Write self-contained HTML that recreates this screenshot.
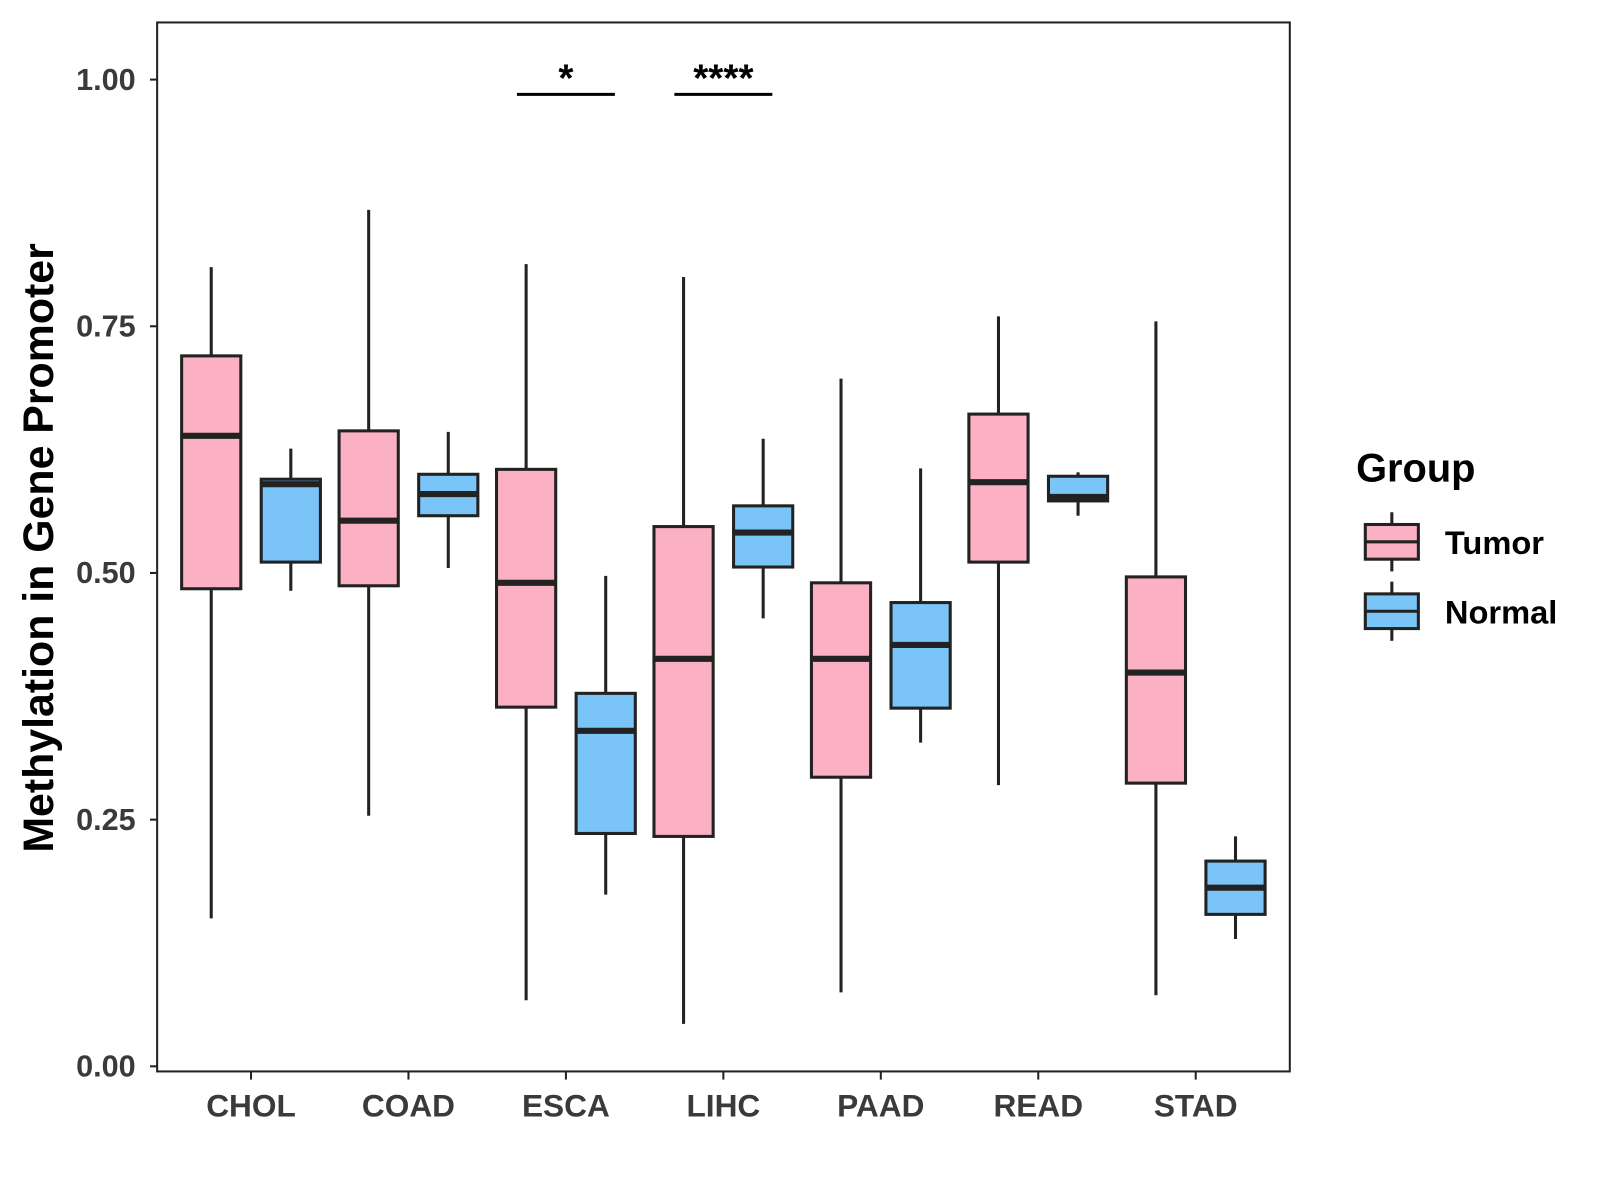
<!DOCTYPE html>
<html><head><meta charset="utf-8"><style>body{margin:0;background:#fff}svg{display:block}text{font-family:"Liberation Sans",Arial,sans-serif;font-weight:bold}</style></head>
<body>
<svg width="1600" height="1200" viewBox="0 0 1568 1176" xmlns="http://www.w3.org/2000/svg" id="chart">
<rect x="154" y="22" width="1110" height="1028" fill="#fff" stroke="#222" stroke-width="2"/>
<text transform="translate(52,537) rotate(-90)" text-anchor="middle" font-size="42" fill="#000">Methylation in Gene Promoter</text>
<text x="1329" y="472" font-size="39" fill="#000">Group</text>
<g>
<line x1="1364" y1="502" x2="1364" y2="560" stroke="#222" stroke-width="3"/>
<rect x="1338" y="514" width="52" height="34" fill="#FBB1C3" stroke="#222" stroke-width="3"/>
<line x1="1338" y1="531" x2="1390" y2="531" stroke="#222" stroke-width="3"/>
<text x="1416" y="543" font-size="32" fill="#000">Tumor</text></g>
<g>
<line x1="1364" y1="570" x2="1364" y2="628" stroke="#222" stroke-width="3"/>
<rect x="1338" y="582" width="52" height="34" fill="#7BC4F8" stroke="#222" stroke-width="3"/>
<line x1="1338" y1="599" x2="1390" y2="599" stroke="#222" stroke-width="3"/>
<text x="1416" y="611" font-size="32" fill="#000">Normal</text></g>
<g id="marks"></g>
</svg>
<script>
const categories=["CHOL","COAD","ESCA","LIHC","PAAD","READ","STAD"];
const tumorLow=[0.15,0.254,0.067,0.043,0.075,0.285,0.072];
const tumorQ1=[0.484,0.487,0.364,0.233,0.293,0.511,0.287];
const tumorMed=[0.639,0.553,0.49,0.413,0.413,0.592,0.399];
const tumorQ3=[0.72,0.644,0.605,0.547,0.49,0.661,0.496];
const tumorHigh=[0.81,0.868,0.813,0.8,0.697,0.76,0.755];
const normalLow=[0.482,0.505,0.174,0.454,0.328,0.558,0.129];
const normalQ1=[0.511,0.558,0.236,0.506,0.363,0.573,0.154];
const normalMed=[0.59,0.58,0.34,0.541,0.427,0.577,0.181];
const normalQ3=[0.595,0.6,0.378,0.568,0.47,0.598,0.208];
const normalHigh=[0.626,0.643,0.497,0.636,0.606,0.602,0.233];
const yTicks=[0,0.25,0.5,0.75,1.0];
const yTickLabels=["0.00","0.25","0.50","0.75","1.00"];
const sigCats=["ESCA","LIHC"];
const sigLabels=["*","****"];
const sigY=[0.985,0.985];

const NS="http://www.w3.org/2000/svg";
const g=document.getElementById('marks');
const yS=v=>1045-v*967;
const xS=i=>246+i*154.3;
function mk(t,a){const e=document.createElementNS(NS,t);for(const k in a)e.setAttribute(k,a[k]);g.appendChild(e);return e;}
yTicks.forEach((t,i)=>{
 const l=mk('line',{x1:147,x2:154,y1:yS(t),y2:yS(t),stroke:'#222','stroke-width':2});
 
 
 const tx=mk('text',{x:133,y:yS(t)+10,'text-anchor':'end','font-size':30,fill:'#3a3a3a'});
 tx.textContent=yTickLabels[i];
 
 
});
categories.forEach((c,i)=>{
 const l=mk('line',{x1:xS(i),x2:xS(i),y1:1050,y2:1058,stroke:'#222','stroke-width':2});
 
 
 const tx=mk('text',{x:xS(i),y:1094,'text-anchor':'middle','font-size':31,fill:'#3a3a3a'});
 tx.textContent=c;
 
 
});
function box(cx,lo,q1,md,q3,hi,fill,name){
 const w=58;
 const wl=mk('line',{x1:cx,x2:cx,y1:yS(hi),y2:yS(lo),stroke:'#222','stroke-width':3});
 
 
 const r=mk('rect',{x:cx-w/2,y:yS(q3),width:w,height:yS(q1)-yS(q3),fill:fill,stroke:'#222','stroke-width':3});
 
 
 const m=mk('line',{x1:cx-w/2,x2:cx+w/2,y1:yS(md),y2:yS(md),stroke:'#222','stroke-width':6});
 
 
}
categories.forEach((c,i)=>{
 box(xS(i)-39,tumorLow[i],tumorQ1[i],tumorMed[i],tumorQ3[i],tumorHigh[i],'#FBB1C3','tumor-'+c.toLowerCase());
 box(xS(i)+39,normalLow[i],normalQ1[i],normalMed[i],normalQ3[i],normalHigh[i],'#7BC4F8','normal-'+c.toLowerCase());
});
sigCats.forEach((c,k)=>{
 const i=categories.indexOf(c);
 const l=mk('line',{x1:xS(i)-48,x2:xS(i)+48,y1:yS(sigY[k]),y2:yS(sigY[k]),stroke:'#000','stroke-width':3});
 
 
 const t=mk('text',{x:xS(i),y:yS(sigY[k])-3,'text-anchor':'middle','font-size':38,fill:'#000'});
 t.textContent=sigLabels[k];
 
 
});
</script>
</body></html>
